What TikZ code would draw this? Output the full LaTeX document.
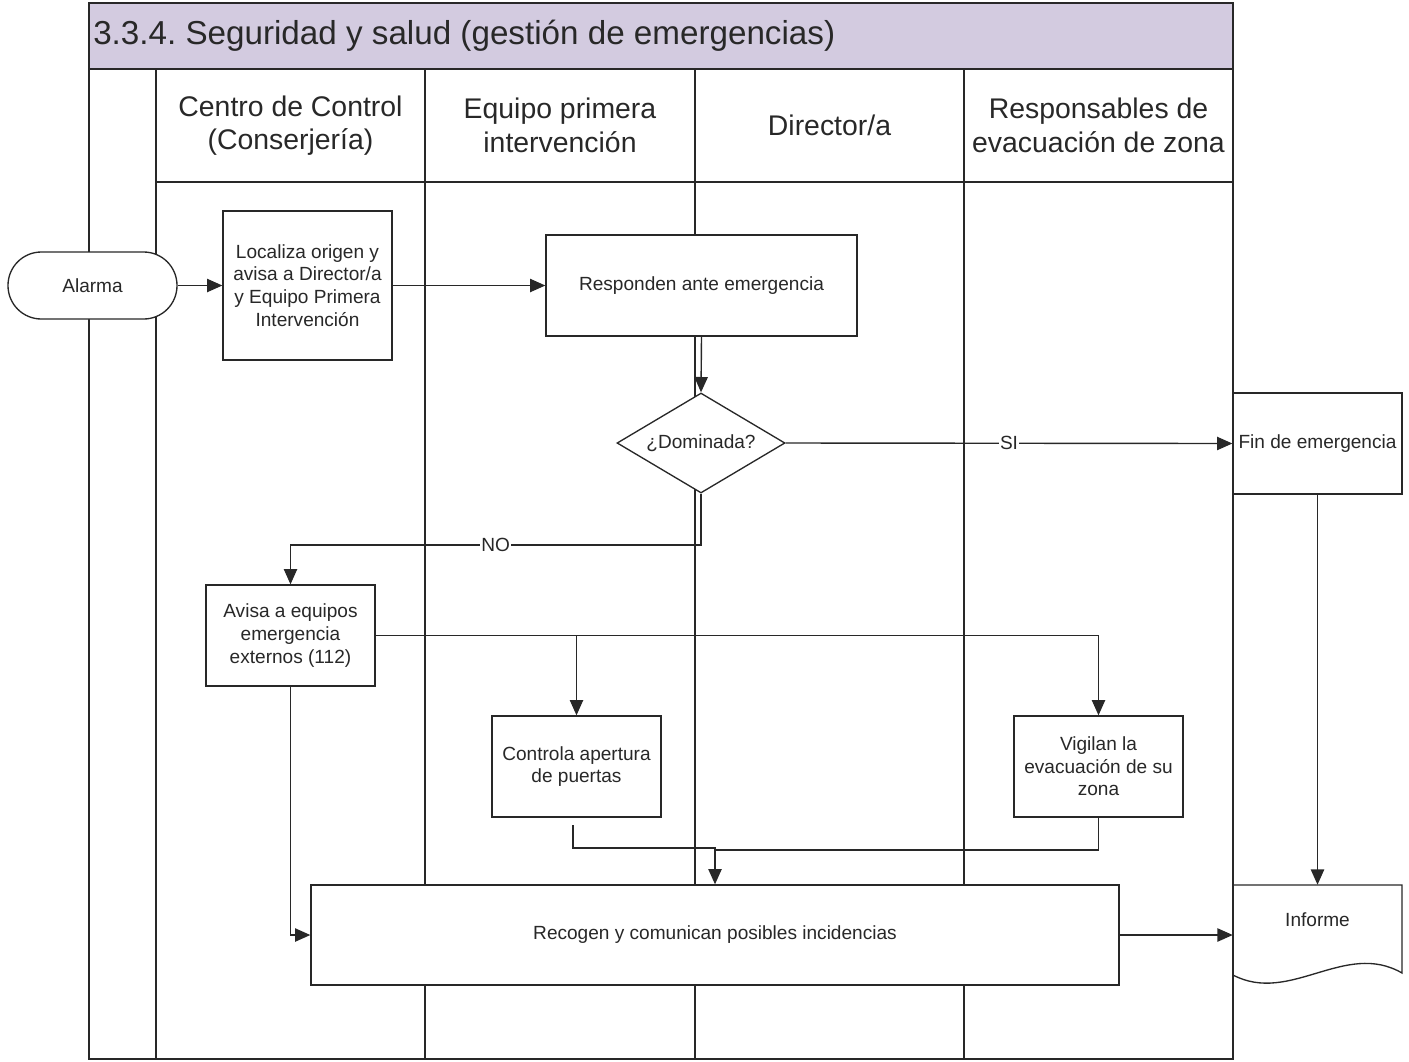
\documentclass[tikz,border=0pt]{standalone}
\usepackage{fontspec}
\setmainfont{Liberation Sans}
\usetikzlibrary{shapes.geometric,arrows.meta,calc}
\definecolor{titlefill}{RGB}{211,203,224}
\definecolor{ink}{RGB}{40,40,40}
\frenchspacing
\begin{document}
\begin{tikzpicture}[x=0.75pt,y=-0.75pt,
  frame/.style={line width=1.3pt, draw=ink},
  flowbox/.style={draw=ink, line width=1pt, fill=white, align=center,
    font=\fontsize{14.3}{17}\selectfont, inner sep=0pt, text=ink,
    minimum width=126.75pt, minimum height=75.75pt},
  conn/.style={line width=1.05pt, draw=ink},
  arr/.style={conn, -{Triangle[length=11.5pt,width=10pt]}},
  hdr/.style={align=center, font=\fontsize{21.3}{25}\selectfont, text=ink, inner sep=0pt},
  lbl/.style={fill=white, inner sep=1pt, text=ink, font=\fontsize{14.3}{17}\selectfont}
]
\useasboundingbox (0,0) rectangle (1409,1061);

% pool
\fill[titlefill] (89,3) rectangle (1233,69);
\draw[frame] (89,3) rectangle (1233,1059);
\draw[frame] (89,69) -- (1233,69);
\draw[frame] (156,182) -- (1233,182);
\foreach \lx in {156,425,695,964} {\draw[frame] (\lx,69) -- (\lx,1059);}

\node[anchor=west, inner sep=0pt, text=ink, font=\fontsize{24.9}{30}\selectfont] (title) at (93,36) {3.3.4. Seguridad y salud (gestión de emergencias)};

\node[hdr] (h1) at (290.5,125.5) {Centro de Control\\(Conserjería)};
\node[hdr] (h2) at (560,125.5) {Equipo primera\\intervención};
\node[hdr] (h3) at (829.5,125.5) {Director/a};
\node[hdr] (h4) at (1098.5,125.5) {Responsables de\\evacuación de zona};

% shapes
\node[flowbox, rounded corners=25pt, minimum height=50.25pt] (alarma) at (92.5,285.5) {Alarma};
\node[flowbox, minimum height=111.75pt] (loc) at (307.5,285.5) {Localiza origen y\\avisa a Director/a\\y Equipo Primera\\Intervención};
\node[flowbox, minimum width=233.25pt] (resp) at (701.5,285.5) {Responden ante emergencia};
\node[flowbox, diamond, aspect=1.68, minimum width=126pt, minimum height=75pt] (dom) at (701,443) {¿Dominada?};
\node[flowbox] (fin) at (1317.5,443.5) {Fin de emergencia};
\node[flowbox] (avisa) at (290.5,635.5) {Avisa a equipos\\emergencia\\externos (112)};
\node[flowbox] (ctrl) at (576.5,766.5) {Controla apertura\\de puertas};
\node[flowbox] (vig) at (1098.5,766.5) {Vigilan la\\evacuación de su\\zona};
\node[flowbox, minimum width=606pt, minimum height=75pt] (rec) at (715,935) {Recogen y comunican posibles incidencias};

% document shape
\node[minimum width=126.75pt, minimum height=75pt, inner sep=0pt] (inf) at (1317.5,935) {};
\draw[line width=1pt, draw=ink, fill=white] (1233,885) -- (1402,885) -- (1402,973)
  .. controls (1345,940) and (1290,1005) .. (1233,975) -- cycle;
\node[text=ink, font=\fontsize{14.3}{17}\selectfont, inner sep=0pt] (inftext) at (1317.5,920) {Informe};

% pool right border over the outside shapes
\draw[frame] (1233,69) -- (1233,1059);

% connectors
\coordinate (noY) at (0,545);
\coordinate (cstart) at (573,825);
\coordinate (cmid) at (715,848);
\coordinate (vmid) at (715,850);

\draw[arr] (alarma.east) -- (loc.west);
\draw[arr] (loc.east) -- (resp.west);
\draw[arr] (resp.south) -- (dom.north);
\draw[arr] (dom.east) -- node[lbl]{SI} (fin.west);
\draw[arr] (dom.south) -- (dom.south |- noY) -- node[lbl]{NO} (avisa.north |- noY) -- (avisa.north);
\draw[arr] (avisa.east) -| (vig.north);
\draw[arr] (avisa.east -| ctrl.north) -- (ctrl.north);
\draw[arr] (avisa.south) |- (rec.west);
\draw[arr] (cstart) |- (cmid) -- (rec.north);
\draw[conn] (vig.south) |- (vmid);
\draw[arr] (fin.south) -- (inf.north);
\draw[arr] (rec.east) -- (inf.west);
\end{tikzpicture}
\end{document}
